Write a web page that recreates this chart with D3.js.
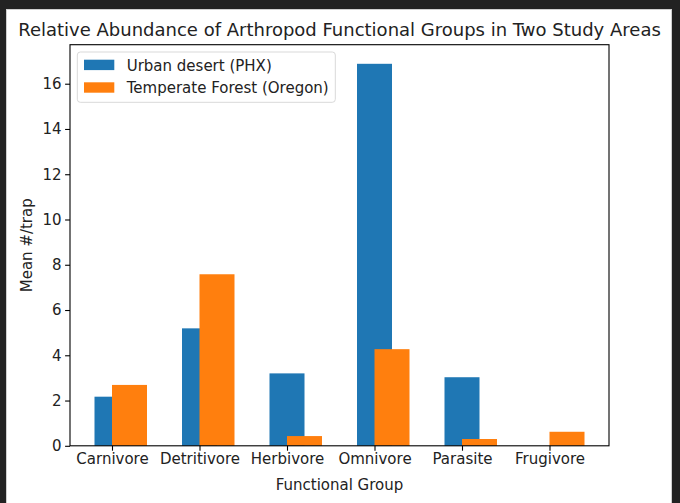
<!DOCTYPE html>
<html>
<head>
<meta charset="utf-8">
<script src="https://cdn.jsdelivr.net/npm/d3@7"></script>
<style>
html,body{margin:0;padding:0;background:#222222;}
svg{display:block;font-family:"DejaVu Sans",sans-serif;}
</style>
</head>
<body>
<svg id="chart" width="680" height="503"></svg>
<script>
const categories = ["Carnivore","Detritivore","Herbivore","Omnivore","Parasite","Frugivore"];
const urbanDesert = [2.17, 5.19, 3.20, 16.88, 3.03, 0];
const temperateForest = [2.69, 7.58, 0.43, 4.27, 0.30, 0.62];
const yTicks = [0,2,4,6,8,10,12,14,16];
const seriesNames = ["Urban desert (PHX)","Temperate Forest (Oregon)"];
const colors = ["#1f77b4","#ff7f0e"];

const svg = d3.select("#chart");
// dark frame + white canvas
svg.append("rect").attr("x",0).attr("y",0).attr("width",680).attr("height",503).attr("fill","#222222");
svg.append("rect").attr("x",6).attr("y",9).attr("width",666).attr("height",494).attr("fill","#cfcfcf");
svg.append("rect").attr("x",7).attr("y",10).attr("width",664).attr("height",493).attr("fill","#ffffff");

const mLeft=70, mRight=609, mTop=44.7, mBottom=445.8;
const x = d3.scaleLinear().domain([-0.48, 5.68]).range([mLeft,mRight]);
const ymax = d3.max(urbanDesert.concat(temperateForest))*1.05;
const y = d3.scaleLinear().domain([0, ymax]).range([mBottom, mTop]);

const g = svg.append("g");
// blue bars: width 0.4 centered at i
g.selectAll("rect.u").data(urbanDesert).enter().append("rect")
  .attr("x",(d,i)=>x(i-0.2)).attr("width",(d,i)=>x(i+0.2)-x(i-0.2))
  .attr("y",d=>y(d)).attr("height",d=>y(0)-y(d)).attr("fill",colors[0]);
// orange bars: width 0.4 centered at i+0.2
g.selectAll("rect.t").data(temperateForest).enter().append("rect")
  .attr("x",(d,i)=>x(i)).attr("width",(d,i)=>x(i+0.4)-x(i))
  .attr("y",d=>y(d)).attr("height",d=>y(0)-y(d)).attr("fill",colors[1]);

// axes
const yAxis = d3.axisLeft(y).tickValues(yTicks).tickSize(4.9).tickPadding(3.5).tickFormat(d3.format("d"));
const ya = svg.append("g").attr("transform",`translate(${mLeft},0)`).call(yAxis);
const xAxis = d3.axisBottom(x).tickValues(d3.range(categories.length)).tickSize(4.9).tickPadding(3).tickFormat(i=>categories[i]);
const xa = svg.append("g").attr("transform",`translate(0,${mBottom})`).call(xAxis);
[ya,xa].forEach(a=>{
  a.select(".domain").remove();
  a.selectAll("line").attr("stroke","#000").attr("stroke-width",1.1);
  a.selectAll("text").attr("font-family","DejaVu Sans").attr("font-size","15px").attr("fill","#222");
});
// spines
svg.append("rect").attr("x",mLeft).attr("y",mTop).attr("width",mRight-mLeft).attr("height",mBottom-mTop)
  .attr("fill","none").attr("stroke","#000").attr("stroke-width",1.1);

// title
svg.append("text").attr("x",(mLeft+mRight)/2).attr("y",35.5).attr("text-anchor","middle")
  .attr("font-size","18px").attr("fill","#222").text("Relative Abundance of Arthropod Functional Groups in Two Study Areas");
// axis labels
svg.append("text").attr("x",(mLeft+mRight)/2).attr("y",489.5).attr("text-anchor","middle")
  .attr("font-size","15px").attr("fill","#222").text("Functional Group");
svg.append("text").attr("transform",`translate(32,${(mTop+mBottom)/2}) rotate(-90)`).attr("text-anchor","middle")
  .attr("font-size","15px").attr("fill","#222").text("Mean #/trap");

// legend
const lg = svg.append("g");
lg.append("rect").attr("x",77.3).attr("y",52).attr("width",258).attr("height",50.3).attr("rx",3)
  .attr("fill","#fff").attr("fill-opacity",0.8).attr("stroke","#d9d9d9").attr("stroke-width",1);
seriesNames.forEach((s,i)=>{
  lg.append("rect").attr("x",84).attr("y",59.7+i*22.6).attr("width",30.3).attr("height",10.4).attr("fill",colors[i]);
  lg.append("text").attr("x",126.7).attr("y",70.5+i*22.6).attr("font-size","15px").attr("fill","#222").text(s);
});
</script>
</body>
</html>
